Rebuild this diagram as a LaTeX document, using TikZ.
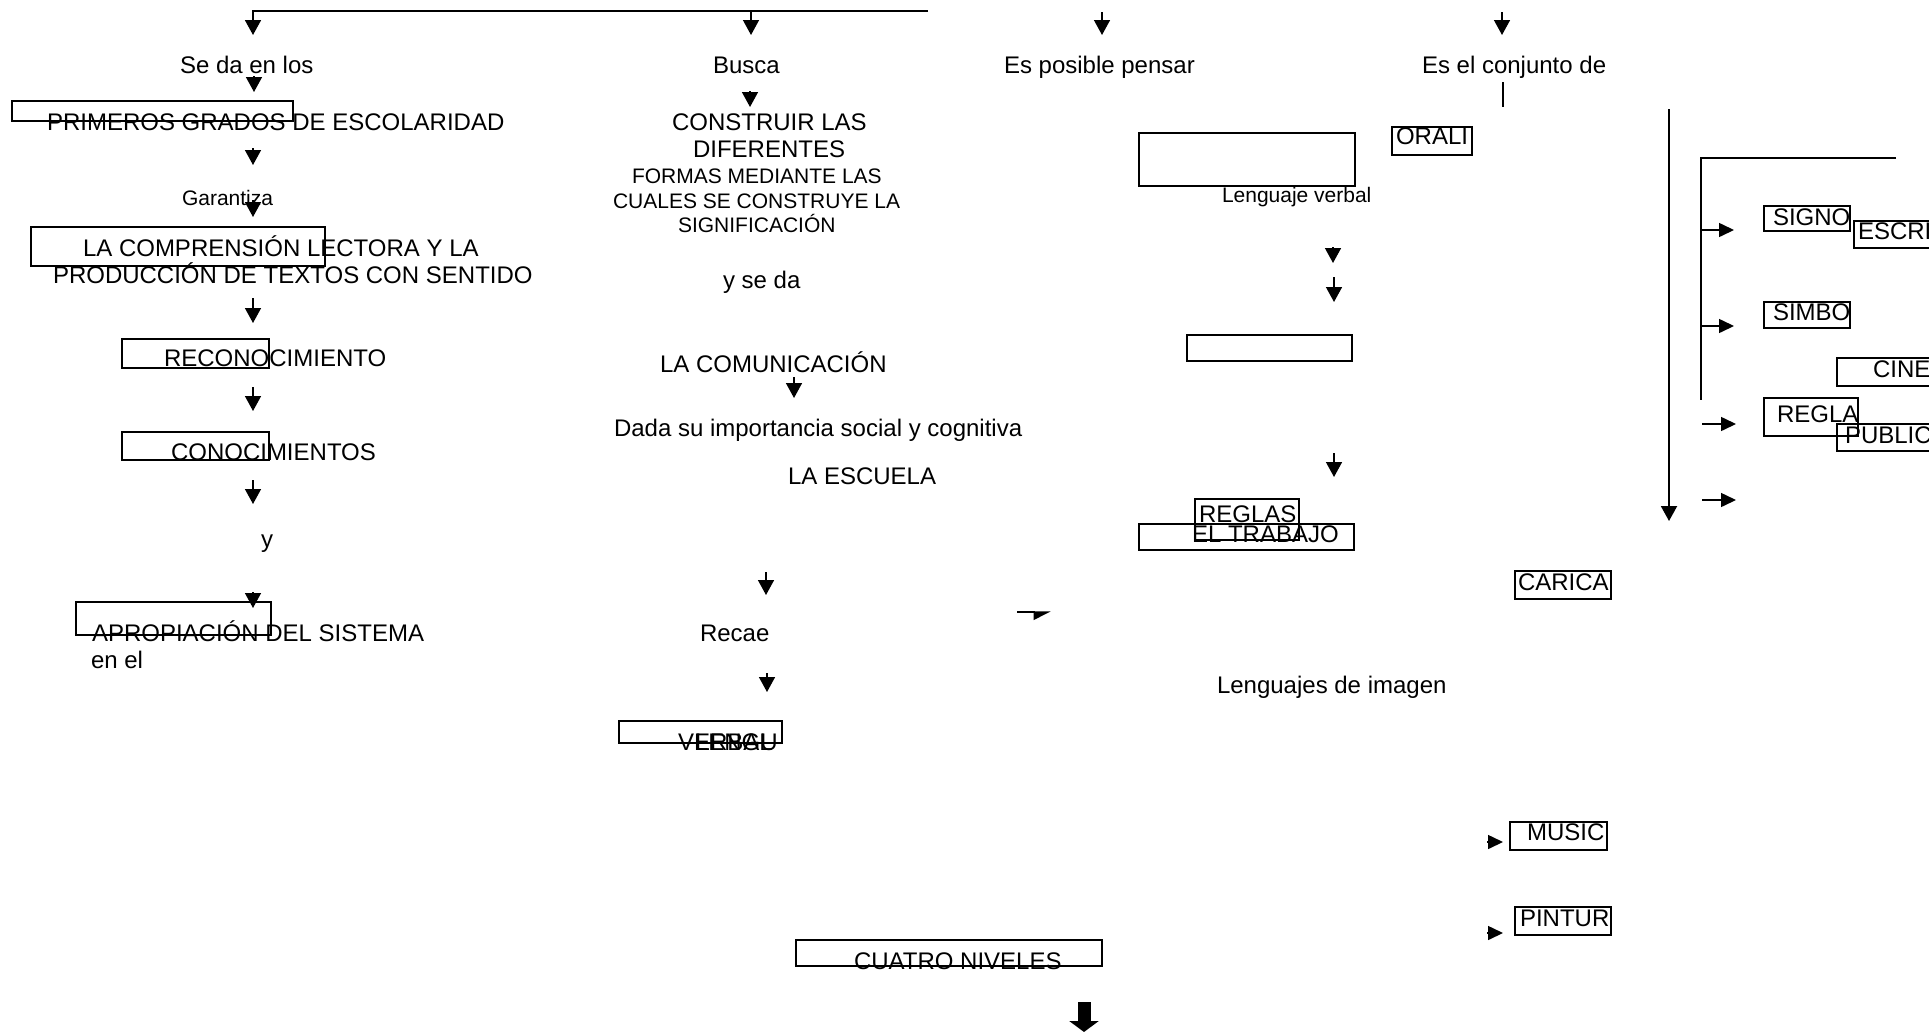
\documentclass[tikz,border=0pt]{standalone}
\usepackage{fontspec}
\setmainfont{Liberation Sans}
\usetikzlibrary{arrows.meta,fit}
\tikzset{
  txt/.style={anchor=base west, inner sep=0pt, outer sep=0pt, font=\fontsize{24}{28}\selectfont},
  stxt/.style={anchor=base west, inner sep=0pt, outer sep=0pt, font=\fontsize{21}{25}\selectfont},
  bx/.style={draw, line width=1.5pt, inner sep=0pt, outer sep=0pt, rectangle},
  arr/.style={line width=1.5pt, -{Triangle[width=16pt,length=15pt]}},
  sarr/.style={line width=1.5pt, -{Triangle[width=14pt,length=15pt]}},
  harr/.style={line width=1.5pt, -{Triangle[harpoon,swap,width=16pt,length=16pt]}},
  barr/.style={line width=13pt, -{Triangle[width=29pt,length=11pt]}},
  ln/.style={line width=1.5pt},
}
\begin{document}
\begin{tikzpicture}[x=1pt,y=-1pt]
\useasboundingbox (0,0) rectangle (1929,1031);

% ---------- boxes ----------
\node[bx, fit={(12,101)(293,121)}] (b1) {};
\node[bx, fit={(31,227)(325,266)}] (b2) {};
\node[bx, fit={(122,339)(269,368)}] (b3) {};
\node[bx, fit={(122,432)(269,460)}] (b4) {};
\node[bx, fit={(76,602)(271,635)}] (b5) {};
\node[bx, fit={(619,721)(782,743)}] (b6) {};
\node[bx, fit={(796,940)(1102,966)}] (b7) {};
\node[bx, fit={(1139,133)(1355,186)}] (b8) {};
\node[bx, fit={(1392,127)(1472,155)}] (b9) {};
\node[bx, fit={(1187,335)(1352,361)}] (b10) {};
\node[bx, fit={(1195,499)(1299,540)}] (b11) {};
\node[bx, fit={(1139,524)(1354,550)}] (b12) {};
\node[bx, fit={(1515,571)(1611,599)}] (b13) {};
\node[bx, fit={(1510,822)(1607,850)}] (b14) {};
\node[bx, fit={(1515,907)(1611,935)}] (b15) {};
\node[bx, fit={(1764,206)(1850,231)}] (b16) {};
\node[bx, fit={(1854,221)(1940,248)}] (b17) {};
\node[bx, fit={(1764,302)(1850,328)}] (b18) {};
\node[bx, fit={(1837,358)(1940,386)}] (b19) {};
\node[bx, fit={(1764,398)(1858,436)}] (b20) {};
\node[bx, fit={(1837,424)(1940,451)}] (b21) {};

% ---------- texts ----------
\node[txt] (sedaen) at (180,73) {Se da en los};
\node[txt] (busca) at (713,73) {Busca};
\node[txt] (pensar) at (1004,73) {Es posible pensar};
\node[txt] (conjunto) at (1422,73) {Es el conjunto de};

\node[txt] (primeros) at (47,130) {PRIMEROS GRADOS DE ESCOLARIDAD};
\node[stxt] (garantiza) at (182,205) {Garantiza};
\node[txt] (compr1) at (83,256) {LA COMPRENSIÓN LECTORA Y LA};
\node[txt] (compr2) at (53,283) {PRODUCCIÓN DE TEXTOS CON SENTIDO};
\node[txt] (recon) at (164,366) {RECONOCIMIENTO};
\node[txt] (conoc) at (171,460) {CONOCIMIENTOS};
\node[txt] (yy) at (261,547) {y};
\node[txt] (aprop) at (92,641) {APROPIACIÓN DEL SISTEMA};
\node[txt] (enel) at (91,668) {en el};

\node[txt] (constr1) at (672,130) {CONSTRUIR LAS};
\node[txt] (constr2) at (693,157) {DIFERENTES};
\node[stxt] (formas1) at (632,183) {FORMAS MEDIANTE LAS};
\node[stxt] (formas2) at (613,208) {CUALES SE CONSTRUYE LA};
\node[stxt] (formas3) at (678,232) {SIGNIFICACIÓN};
\node[txt] (yseda) at (723,288) {y se da};
\node[txt] (comun) at (660,372) {LA COMUNICACIÓN};
\node[txt] (dada) at (614,436) {Dada su importancia social y cognitiva};
\node[txt] (escuela) at (788,484) {LA ESCUELA};
\node[txt] (recae) at (700,641) {Recae};
\node[txt] (verbal) at (678,750) {VERBAL};
\node[txt] (lengu) at (695,750) {LENGU};
\node[txt] (cuatro) at (854,969) {CUATRO NIVELES};

\node[stxt] (lverbal) at (1222,202) {Lenguaje verbal};
\node[txt] (orali) at (1396,144) {ORALI};
\node[txt] (reglas) at (1199,522) {REGLAS};
\node[txt] (trabajo) at (1192,542) {EL TRABAJO};
\node[txt] (carica) at (1518,590) {CARICA};
\node[txt] (limagen) at (1217,693) {Lenguajes de imagen};
\node[txt] (music) at (1527,840) {MUSIC};
\node[txt] (pintur) at (1520,926) {PINTUR};

\node[txt] (signo) at (1773,225) {SIGNO};
\node[txt] (escri) at (1858,239) {ESCRI};
\node[txt] (simbo) at (1773,320) {SIMBO};
\node[txt] (cine) at (1873,377) {CINE};
\node[txt] (regla) at (1777,422) {REGLA};
\node[txt] (public) at (1845,443) {PUBLIC};

% ---------- coordinates for connectors ----------
\coordinate (topR) at (928,11);
\coordinate (tA1) at (253,35);
\coordinate (tB0) at (751,11);   \coordinate (tB1) at (751,35);
\coordinate (tC0) at (1102,12);  \coordinate (tC1) at (1102,35);
\coordinate (tD0) at (1502,12);  \coordinate (tD1) at (1502,35);

\coordinate (l1a) at (254,76);  \coordinate (l1b) at (254,92);
\coordinate (l2a) at (253,148); \coordinate (l2b) at (253,165);
\coordinate (l3a) at (253,200); \coordinate (l3b) at (253,217);
\coordinate (l4a) at (253,298); \coordinate (l4b) at (253,323);
\coordinate (l5a) at (253,387); \coordinate (l5b) at (253,411);
\coordinate (l6a) at (253,480); \coordinate (l6b) at (253,504);
\coordinate (l7a) at (253,592); \coordinate (l7b) at (253,608);

\coordinate (m1a) at (750,91);  \coordinate (m1b) at (750,107);
\coordinate (m2a) at (794,377); \coordinate (m2b) at (794,398);
\coordinate (m3a) at (766,572); \coordinate (m3b) at (766,595);
\coordinate (m4a) at (767,673); \coordinate (m4b) at (767,692);
\coordinate (h1a) at (1017,612); \coordinate (h1b) at (1051,612);
\coordinate (bga) at (1084,1002); \coordinate (bgb) at (1084,1032);

\coordinate (r1a) at (1333,247); \coordinate (r1b) at (1333,263);
\coordinate (r2a) at (1334,277); \coordinate (r2b) at (1334,302);
\coordinate (r3a) at (1334,453); \coordinate (r3b) at (1334,477);
\coordinate (vla) at (1503,82);  \coordinate (vlb) at (1503,107);

\coordinate (lva) at (1669,109); \coordinate (lvb) at (1669,521);
\coordinate (brA) at (1896,158); \coordinate (brB) at (1701,400);
\coordinate (k1a) at (1701,230); \coordinate (k1b) at (1734,230);
\coordinate (k2a) at (1701,326); \coordinate (k2b) at (1734,326);
\coordinate (k3a) at (1702,424); \coordinate (k3b) at (1736,424);
\coordinate (k4a) at (1702,500); \coordinate (k4b) at (1736,500);
\coordinate (p1a) at (1487,842); \coordinate (p1b) at (1503,842);
\coordinate (p2a) at (1487,933); \coordinate (p2b) at (1503,933);

% ---------- connectors ----------
\draw[line width=1.8pt, -{Triangle[width=16pt,length=15pt]}] (topR) -| (tA1);
\draw[arr] (tB0) -- (tB1);
\draw[arr] (tC0) -- (tC1);
\draw[arr] (tD0) -- (tD1);

\draw[arr] (l1a) -- (l1b);
\draw[arr] (l2a) -- (l2b);
\draw[arr] (l3a) -- (l3b);
\draw[arr] (l4a) -- (l4b);
\draw[arr] (l5a) -- (l5b);
\draw[arr] (l6a) -- (l6b);
\draw[arr] (l7a) -- (l7b);

\draw[arr] (m1a) -- (m1b);
\draw[arr] (m2a) -- (m2b);
\draw[arr] (m3a) -- (m3b);
\draw[arr] (m4a) -- (m4b);
\draw[harr] (h1a) -- (h1b);
\draw[barr] (bga) -- (bgb);

\draw[arr] (r1a) -- (r1b);
\draw[arr] (r2a) -- (r2b);
\draw[arr] (r3a) -- (r3b);
\draw[ln] (vla) -- (vlb);

\draw[line width=2pt, -{Triangle[width=16pt,length=15pt]}] (lva) -- (lvb);
\draw[ln] (brA) -| (brB);
\draw[sarr] (k1a) -- (k1b);
\draw[sarr] (k2a) -- (k2b);
\draw[sarr] (k3a) -- (k3b);
\draw[sarr] (k4a) -- (k4b);
\draw[sarr] (p1a) -- (p1b);
\draw[sarr] (p2a) -- (p2b);
\end{tikzpicture}
\end{document}
